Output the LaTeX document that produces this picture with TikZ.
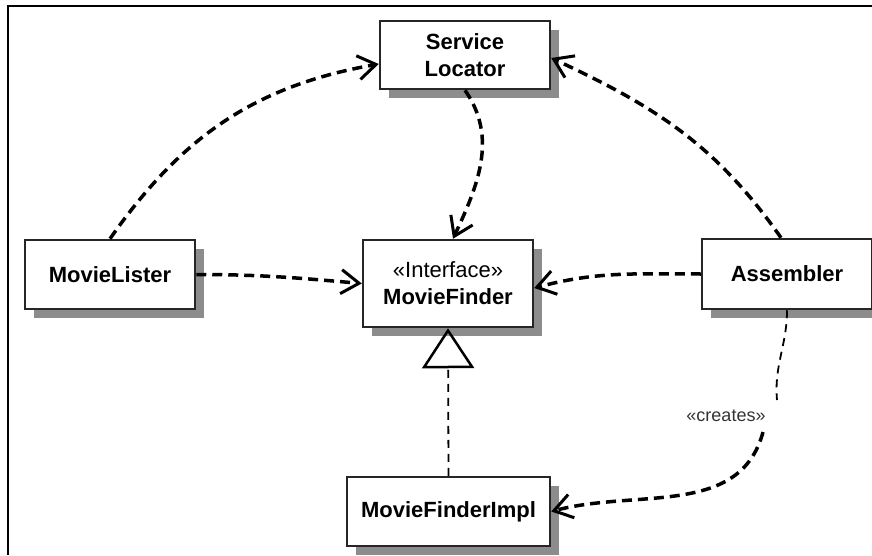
\documentclass[tikz,border=0pt]{standalone}
\usepackage{fontspec}
\setmainfont{Liberation Sans}
\usetikzlibrary{arrows.meta,shadows}

\begin{document}
\begin{tikzpicture}[x=1pt,y=1pt,
  cls/.style={draw=black!85, line width=2.5pt, fill=white, minimum width=170pt, align=center,
    font=\fontsize{22}{27}\selectfont\bfseries,
    general shadow={fill=black!45, shadow xshift=9pt, shadow yshift=-9pt}},
  dep/.style={line width=3.5pt, dash pattern=on 10pt off 6pt,
    -{Straight Barb[length=18pt,width=24pt,line width=3pt]}},
  thindash/.style={line width=1.8pt, dash pattern=on 8pt off 6pt}]
\useasboundingbox (0,0) rectangle (872,555);
\draw[line width=2pt] (8,0) -- (8,549) -- (872,549);

\node[cls, minimum height=68pt] (loc) at (465,500) {Service\\Locator};
\node[cls, minimum height=69pt] (lister) at (110,280.5) {MovieLister};
\node[cls, minimum height=87pt] (finder) at (448,271.5) {{\mdseries «Interface»}\\MovieFinder};
\node[cls, minimum height=70pt] (asm) at (787,281) {Assembler};
\node[cls, minimum height=69pt, minimum width=203pt] (impl) at (448.5,43.5) {MovieFinderImpl};

\draw[dep] (lister.north) to[out=55,in=190] ([yshift=-9pt]loc.west);
\draw[dep] (loc.south) to[out=-55,in=65] ([xshift=5pt]finder.north);
\draw[dep] ([xshift=-6pt]asm.north) to[out=125,in=-25] ([yshift=-3pt]loc.east);
\draw[dep] (lister.east) to[out=0,in=175] (finder.west);
\draw[dep] (asm.west) to[out=180,in=15] ([yshift=-4.5pt]finder.east);

\draw[thindash, -{Triangle[open,length=40pt,width=52pt,line width=2.5pt]}] (impl.north) -- (finder.south);

\node[font=\fontsize{18}{20}\selectfont, text=black!80] (crt) at (726,139) {«creates»};
\coordinate (cr1) at (777,155);
\coordinate (cr2) at (763,123);
\draw[thindash] (asm.south) to[out=-90,in=95] (cr1);
\draw[dep] (cr2) to[out=-105,in=15] (impl.east);
\end{tikzpicture}
\end{document}
